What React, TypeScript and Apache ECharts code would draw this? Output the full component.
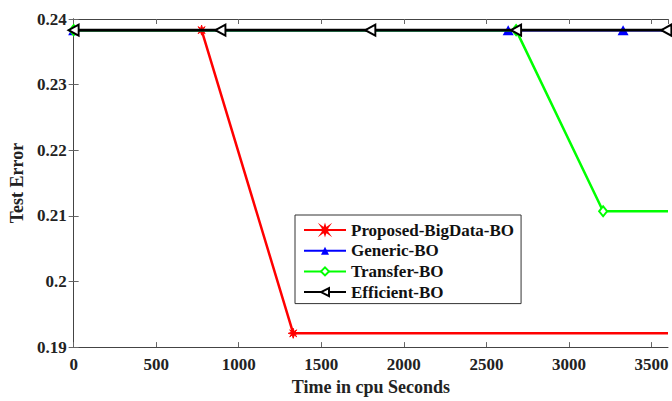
import React, { useEffect, useRef } from "react";
import * as echarts from "echarts";

const xTicks = [0, 500, 1000, 1500, 2000, 2500, 3000, 3500];
const yTicks = [0.19, 0.2, 0.21, 0.22, 0.23, 0.24];

const proposedX = [0, 775, 1330, 3600];
const proposedY = [0.2383, 0.2383, 0.1921, 0.1921];
const proposedMarked = [false, true, true, false];

const genericX = [0, 2632, 3328, 3600];
const genericY = [0.2383, 0.2383, 0.2383, 0.2383];
const genericMarked = [true, true, true, false];

const transferX = [0, 2680, 3207, 3600];
const transferY = [0.2383, 0.2383, 0.2107, 0.2107];
const transferMarked = [true, true, true, false];

const efficientX = [0, 889, 1797, 2680, 3590, 3600];
const efficientY = [0.2383, 0.2383, 0.2383, 0.2383, 0.2383, 0.2383];
const efficientMarked = [true, true, true, true, true, false];

const FONT = "Liberation Serif";
const STAR =
  "path://M5,0 L6,3.3 L8.5,1.5 L6.7,4 L10,5 L6.7,6 L8.5,8.5 L6,6.7 L5,10 L4,6.7 L1.5,8.5 L3.3,6 L0,5 L3.3,4 L1.5,1.5 L4,3.3 Z";

function build(xs: number[], ys: number[], marked: boolean[]) {
  return xs.map((x, i) =>
    marked[i] ? { value: [x, ys[i]] } : { value: [x, ys[i]], symbol: "none" }
  );
}

export default function App() {
  const ref = useRef<HTMLDivElement>(null);
  useEffect(() => {
    const chart = echarts.init(ref.current!, null, { renderer: "svg" });
    const axisLine = { show: true, lineStyle: { color: "#444", width: 1 } };
    const tick = { show: true, inside: true, length: 5, lineStyle: { color: "#666" } };
    chart.setOption({
      animation: false,
      backgroundColor: "#fff",
      grid: { left: 70.5, right: 4, top: 19, bottom: 42, containLabel: false },
      xAxis: [
        {
          type: "value",
          min: 0,
          max: 3600,
          interval: 500,
          axisLine,
          axisTick: tick,
          splitLine: { show: false },
          axisLabel: {
            margin: 9,
            fontFamily: FONT,
            fontWeight: "bold",
            fontSize: 17,
            color: "#222",
            showMaxLabel: false,
            formatter: (v: number) => (xTicks.includes(v) ? String(v) : ""),
          },
          name: "Time in cpu Seconds",
          nameLocation: "middle",
          nameGap: 26,
          nameTextStyle: { fontFamily: FONT, fontWeight: "bold", fontSize: 18, color: "#222" },
        },
        {
          type: "value",
          position: "top",
          min: 0,
          max: 3600,
          interval: 500,
          axisLine,
          axisTick: tick,
          axisLabel: { show: false },
          splitLine: { show: false },
        },
      ],
      yAxis: [
        {
          type: "value",
          min: 0.19,
          max: 0.24,
          interval: 0.01,
          axisLine,
          axisTick: tick,
          splitLine: { show: false },
          axisLabel: {
            margin: 7,
            fontFamily: FONT,
            fontWeight: "bold",
            fontSize: 17,
            color: "#222",
            formatter: (v: number) => {
              const t = yTicks.find((k) => Math.abs(k - v) < 1e-6);
              return t === undefined ? "" : String(+t.toFixed(2));
            },
          },
          name: "Test Error",
          nameLocation: "middle",
          nameRotate: 90,
          nameGap: 44,
          nameTextStyle: { fontFamily: FONT, fontWeight: "bold", fontSize: 18, color: "#222" },
        },
        {
          type: "value",
          position: "right",
          min: 0.19,
          max: 0.24,
          interval: 0.01,
          axisLine,
          axisTick: tick,
          axisLabel: { show: false },
          splitLine: { show: false },
        },
      ],
      legend: {
        orient: "vertical",
        left: 295,
        top: 215,
        padding: [6.5, 7, 3, 8],
        itemWidth: 42,
        itemHeight: 10,
        itemGap: 3.7,
        itemTextGap: 7,
        borderColor: "#333",
        borderWidth: 1,
        backgroundColor: "#fff",
        textStyle: { fontFamily: FONT, fontWeight: "bold", fontSize: 17, lineHeight: 17, color: "#111" },
        data: ["Proposed-BigData-BO", "Generic-BO", "Transfer-BO", "Efficient-BO"],
      },
      series: [
        {
          name: "Proposed-BigData-BO",
          type: "line",
          data: build(proposedX, proposedY, proposedMarked),
          symbol: STAR,
          symbolSize: 10,
          color: "#ff0000",
          lineStyle: { width: 2.5, color: "#ff0000" },
          itemStyle: { color: "#ff0000", borderColor: "#ff0000", borderWidth: 1 },
          clip: false,
          z: 2,
        },
        {
          name: "Generic-BO",
          type: "line",
          data: build(genericX, genericY, genericMarked),
          symbol: "triangle",
          symbolSize: [11, 10],
          color: "#0000ff",
          lineStyle: { width: 2.5, color: "#0000ff" },
          itemStyle: { color: "#0000ff" },
          clip: false,
          z: 3,
        },
        {
          name: "Transfer-BO",
          type: "line",
          data: build(transferX, transferY, transferMarked),
          symbol: "diamond",
          symbolSize: [8, 10],
          color: "#00ff00",
          lineStyle: { width: 2.5, color: "#00ff00" },
          itemStyle: { color: "#ffffff", borderColor: "#00ff00", borderWidth: 2 },
          clip: false,
          z: 4,
        },
        {
          name: "Efficient-BO",
          type: "line",
          data: build(efficientX, efficientY, efficientMarked),
          symbol: "triangle",
          symbolRotate: 90,
          symbolSize: [11, 10],
          color: "#000000",
          lineStyle: { width: 2.8, color: "#000000" },
          itemStyle: { color: "#ffffff", borderColor: "#000000", borderWidth: 2 },
          clip: false,
          z: 5,
        },
      ],
    });
    return () => chart.dispose();
  }, []);
  return <div ref={ref} style={{ width: 672, height: 401, position: "absolute", left: 0, top: 0 }} />;
}
